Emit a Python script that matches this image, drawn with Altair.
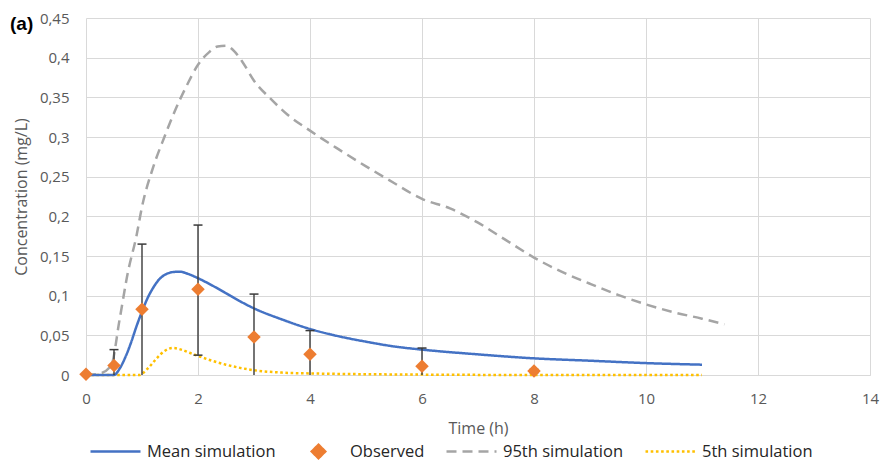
import altair as alt
import pandas as pd

# ---------------- data ----------------
series_names = ["Mean simulation", "Observed", "95th simulation", "5th simulation"]

mean_t = [0, 0.3, 0.5, 0.6, 0.7, 0.8, 0.9, 1.0, 1.1, 1.2, 1.3, 1.4, 1.5, 1.6, 1.7, 1.8,
          2.0, 2.25, 2.5, 2.75, 3.0, 3.5, 4.0, 4.5, 5.0, 5.5, 6.0, 7.0, 8.0, 9.0, 10.0, 11.0]
mean_c = [0, 0, 0, 0.008, 0.022, 0.040, 0.061, 0.080, 0.097, 0.110, 0.120, 0.126, 0.129, 0.130, 0.130, 0.128,
          0.122, 0.113, 0.103, 0.093, 0.084, 0.070, 0.058, 0.049, 0.042, 0.036, 0.032, 0.026, 0.021, 0.018, 0.015, 0.013]

p95_t = [0, 0.25, 0.45, 0.6, 0.75, 0.9, 1.0, 1.2, 1.4, 1.6, 1.8, 2.0, 2.2, 2.35, 2.5, 2.65, 2.8, 3.0,
         3.3, 3.6, 4.0, 4.5, 5.0, 5.5, 6.0, 6.5, 7.0, 7.5, 8.0, 8.5, 9.0, 9.5, 10.0, 10.5, 11.0, 11.4]
p95_c = [0, 0.002, 0.012, 0.070, 0.130, 0.175, 0.212, 0.262, 0.300, 0.335, 0.365, 0.391, 0.407, 0.414, 0.415, 0.408, 0.394, 0.371,
         0.348, 0.328, 0.308, 0.285, 0.263, 0.242, 0.222, 0.210, 0.192, 0.170, 0.148, 0.130, 0.115, 0.101, 0.089, 0.079, 0.071, 0.064]

p5_t = [0, 0.95, 1.1, 1.25, 1.4, 1.55, 1.7, 1.85, 2.0, 2.25, 2.5, 2.75, 3.0, 3.5, 4.0, 5.0, 6.0, 8.0, 11.0]
p5_c = [0, 0, 0.008, 0.020, 0.030, 0.034, 0.032, 0.028, 0.024, 0.018, 0.013, 0.009, 0.006, 0.003, 0.002, 0.001, 0.0005, 0, 0]

obs_t = [0, 0.5, 1, 2, 3, 4, 6, 8]
obs_c = [0.001, 0.012, 0.083, 0.108, 0.048, 0.026, 0.011, 0.005]
err_lo = [0.001, 0.0, 0.0, 0.025, 0.0, 0.0, 0.0, 0.003]
err_hi = [0.001, 0.032, 0.165, 0.189, 0.102, 0.056, 0.034, 0.007]

x_ticks = [0, 2, 4, 6, 8, 10, 12, 14]
y_ticks = [0, 0.05, 0.1, 0.15, 0.2, 0.25, 0.3, 0.35, 0.4, 0.45]

# ---------------- styles ----------------
colors = ["#4472C4", "#ED7D31", "#A5A5A5", "#FFC000"]
dashes = [[1, 0], [1, 0], [10, 6], [2.6, 2.6]]
DIAMOND = "M0,-0.27L0.27,0L0,0.27L-0.27,0Z"
shapes = ["stroke", DIAMOND, "stroke", "stroke"]
FONT = "Open Sans"
GRID = "#D9D9D9"
TXT = "#595959"

lines_df = pd.concat([
    pd.DataFrame({"t": p95_t, "c": p95_c, "series": "95th simulation", "order": 0}),
    pd.DataFrame({"t": p5_t, "c": p5_c, "series": "5th simulation", "order": 1}),
    pd.DataFrame({"t": mean_t, "c": mean_c, "series": "Mean simulation", "order": 2}),
], ignore_index=True)

obs_df = pd.DataFrame({"t": obs_t, "c": obs_c, "lo": err_lo, "hi": err_hi,
                       "series": "Observed"})

x_scale = alt.Scale(domain=[0, 14], nice=False, zero=False)
y_scale = alt.Scale(domain=[0, 0.45], nice=False)

x_axis = alt.Axis(values=x_ticks, title="Time (h)", grid=True, gridColor=GRID, gridWidth=1,
                  ticks=False, tickSize=0, domain=True, domainColor=GRID, domainWidth=1,
                  labelFlush=False,
                  labelFont=FONT, labelFontSize=15, labelColor=TXT, labelPadding=16,
                  titleFont=FONT, titleFontSize=16, titleColor=TXT, titleFontWeight="normal",
                  titlePadding=14)
y_axis = alt.Axis(values=y_ticks, title="Concentration (mg/L)", grid=True, gridColor=GRID, gridWidth=1,
                  ticks=False, tickSize=0, domain=False, labelFlush=False,
                  labelExpr="replace(format(datum.value, '.2~f'), '.', ',')",
                  labelFont=FONT, labelFontSize=15, labelColor=TXT, labelPadding=17,
                  titleFont=FONT, titleFontSize=16, titleColor=TXT, titleFontWeight="normal",
                  titlePadding=10)

X = alt.X("t:Q", scale=x_scale, axis=x_axis)
Y = alt.Y("c:Q", scale=y_scale, axis=y_axis)

color_enc = alt.Color("series:N", scale=alt.Scale(domain=series_names, range=colors),
                      legend=alt.Legend(title=None))

lines = alt.Chart(lines_df).mark_line(strokeWidth=2.5, interpolate="monotone").encode(
    x=X, y=Y, color=color_enc,
    strokeDash=alt.StrokeDash("series:N", scale=alt.Scale(domain=series_names, range=dashes),
                              legend=alt.Legend(title=None)),
    order="order:Q",
)

err_base = alt.Chart(obs_df).transform_filter("datum.hi > datum.lo")
err_rule = err_base.mark_rule(color="#3a3a3a", strokeWidth=1.4).encode(
    x=alt.X("t:Q", scale=x_scale, axis=x_axis),
    y=alt.Y("lo:Q", scale=y_scale, axis=y_axis),
    y2="hi:Q",
)
cap_hi = err_base.mark_tick(color="#3a3a3a", orient="horizontal", size=9, thickness=1.5, opacity=1).encode(
    x=alt.X("t:Q", scale=x_scale, axis=x_axis),
    y=alt.Y("hi:Q", scale=y_scale, axis=y_axis),
)
cap_lo = err_base.transform_filter("datum.lo > 0").mark_tick(
    color="#3a3a3a", orient="horizontal", size=9, thickness=1.5, opacity=1).encode(
    x=alt.X("t:Q", scale=x_scale, axis=x_axis),
    y=alt.Y("lo:Q", scale=y_scale, axis=y_axis),
)

points = alt.Chart(obs_df).mark_point(filled=True, size=2500, opacity=1, strokeWidth=0).encode(
    x=X, y=Y, color=color_enc,
    shape=alt.Shape("series:N", scale=alt.Scale(domain=series_names, range=shapes),
                    legend=alt.Legend(title=None)),
)

chart = alt.layer(lines, err_rule, cap_hi, cap_lo, points).properties(
    width=784, height=357,
    autosize=alt.AutoSizeParams(type="none"),
    padding={"left": 86, "top": 18, "right": 10, "bottom": 85},
    title=alt.TitleParams("(a)", anchor="start", orient="top", frame="group", offset=0,
                          dx=-76, dy=38, baseline="alphabetic",
                          font="Liberation Sans", fontSize=19, fontWeight="bold", color="#000000"),
).configure_view(stroke=None).configure_legend(
    orient="none", legendX=3, legendY=407, direction="horizontal",
    symbolSize=2500, symbolStrokeWidth=2.5, labelFont=FONT, labelFontSize=16.5,
    labelColor="#262626", columnPadding=16, labelOffset=5, padding=0,
    labelBaseline="middle", gridAlign="none",
)

chart.save("out.html", embed_options={"renderer": "svg", "actions": False})
